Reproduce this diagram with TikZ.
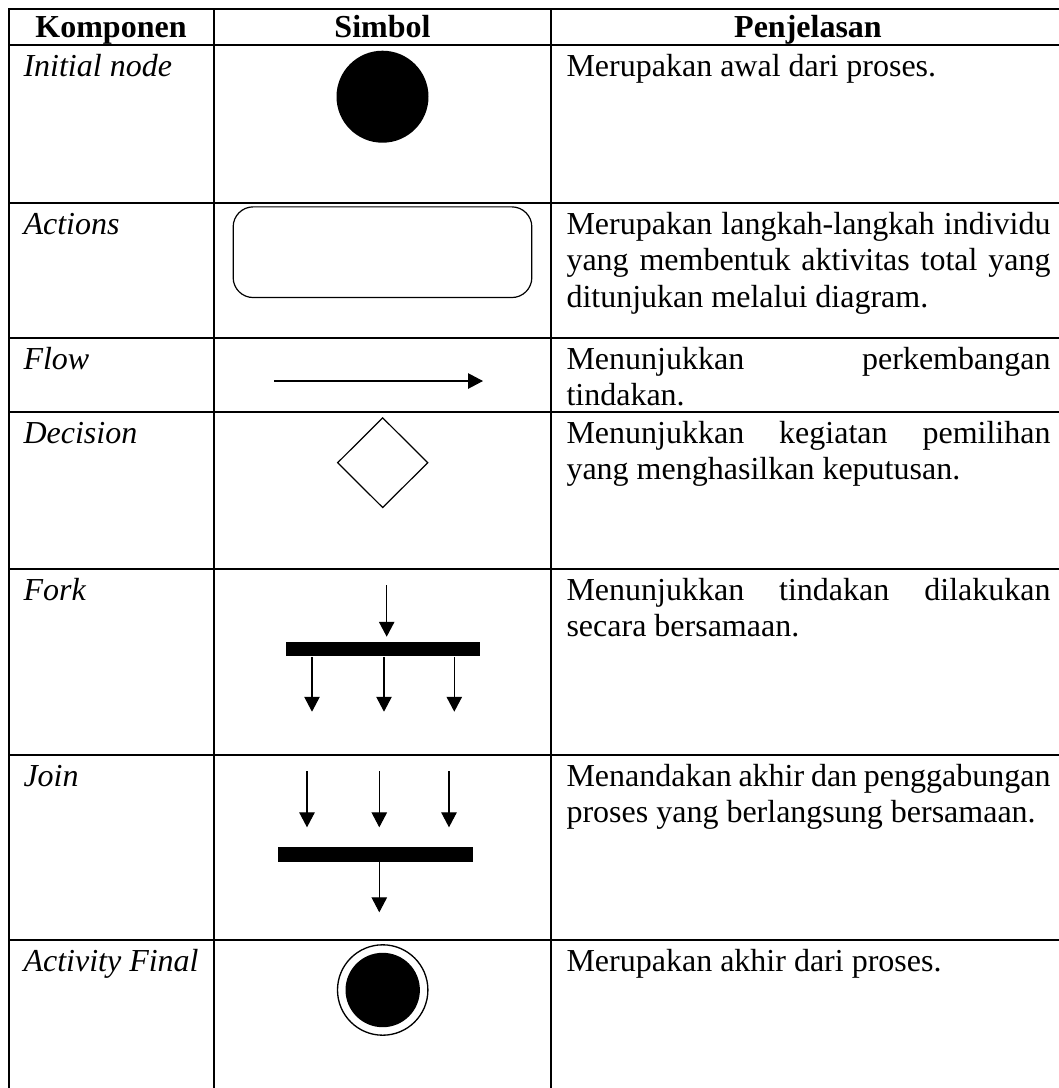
\documentclass[tikz,border=0pt]{standalone}
\usepackage{fontspec}
\setmainfont{Liberation Serif}
\usetikzlibrary{arrows.meta,shapes.geometric}
\newcommand\cellfont{\fontsize{12pt}{13.76pt}\selectfont}
\tolerance=10000
\hyphenpenalty=10000
\exhyphenpenalty=10000
\begin{document}
\begin{tikzpicture}[x=0.375pt,y=-0.375pt,
  rule/.style={line width=0.75pt},
  head/.style={font=\cellfont\bfseries, inner sep=0pt, anchor=base},
  comp/.style={font=\cellfont\itshape, inner sep=0pt, anchor=north west},
  desc/.style={font=\cellfont, inner sep=0pt, anchor=north west, text width=181.5pt, align=justify},
  flowline/.style={line width=0.4pt, -{Triangle[length=5.6pt,width=5.8pt]}},
  shapeline/.style={line width=0.45pt},
  barbox/.style={fill=black, inner sep=0pt, minimum width=73pt, minimum height=5.5pt},
]
\useasboundingbox (0,0) rectangle (1059,1088);
\clip (0,0) rectangle (1059,1088);

% ---- table rules ----
\draw[rule] (8.5,1100) -- (8.5,8.5) -- (1070,8.5);
\foreach \yy in {45,203,338,412,569,755,940}
  \draw[rule] (8.5,\yy) -- (1070,\yy);
\foreach \xx in {214,551}
  \draw[rule] (\xx,8.5) -- (\xx,1100);

% ---- header ----
\node[head] (hkomp) at (111,37.5) {Komponen};
\node[head] (hsimb) at (382.5,37.5) {Simbol};
\node[head] (hpenj) at (808,37.5) {Penjelasan};

% ---- component names ----
\node[comp] (kinit) at (23,50)  {\strut Initial node};
\node[comp] (kact)  at (23,208) {\strut Actions};
\node[comp] (kflow) at (23,343) {\strut Flow};
\node[comp] (kdec)  at (23,417) {\strut Decision};
\node[comp] (kfork) at (23,574) {\strut Fork};
\node[comp] (kjoin) at (23,760) {\strut Join};
\node[comp] (kfin)  at (23,945) {\strut Activity Final};

% ---- descriptions ----
\node[desc] (dinit) at (566,50)  {\strut Merupakan awal dari proses.};
\node[desc] (dact)  at (566,208) {\strut Merupakan langkah-langkah individu\linebreak yang membentuk aktivitas total yang\linebreak ditunjukan melalui diagram.};
\node[desc] (dflow) at (566,343) {\strut Menunjukkan perkembangan\linebreak tindakan.};
\node[desc] (ddec)  at (566,417) {\strut Menunjukkan kegiatan pemilihan\linebreak yang menghasilkan keputusan.};
\node[desc] (dfork) at (566,574) {\strut Menunjukkan tindakan dilakukan\linebreak secara bersamaan.};
\node[desc] (djoin) at (566,760) {\strut Menandakan akhir dan penggabungan\linebreak proses yang berlangsung bersamaan.};
\node[desc] (dfin)  at (566,945) {\strut Merupakan akhir dari proses.};

% ---- initial node ----
\node[circle, fill=black, inner sep=0pt, minimum size=34.5pt] (initdot) at (382.5,96.7) {};

% ---- action ----
\node[draw, shapeline, rectangle, rounded corners=7.5pt, inner sep=0pt,
      minimum width=112pt, minimum height=34pt] (actbox) at (382.5,252.2) {};

% ---- flow ----
\coordinate (flowstart) at (274,381);
\coordinate (flowend) at (483,381);
\draw[flowline] (flowstart) -- (flowend);

% ---- decision ----
\node[draw, shapeline, diamond, aspect=1, inner sep=0pt,
      minimum width=34pt, minimum height=33.8pt] (decbox) at (382.7,462.7) {};

% ---- fork ----
\node[barbox] (forkbar) at (383,649) {};
\coordinate (forkin) at (386.7,585.3);
\coordinate (forkintip) at (386.7,636.7);
\draw[flowline] (forkin) -- (forkintip);
\coordinate (forkout1) at (312,711.7);
\coordinate (forkout2) at (384,711.7);
\coordinate (forkout3) at (454.3,711.7);
\foreach \k in {1,2,3}
  \draw[flowline] (forkbar.south -| forkout\k) -- (forkout\k);

% ---- join ----
\node[barbox, minimum height=5.7pt] (joinbar) at (375.5,854.3) {};
\coordinate (joinin1) at (307,771);
\coordinate (joinin2) at (379.3,771);
\coordinate (joinin3) at (449,771);
\coordinate (jointip1) at (307,827.3);
\coordinate (jointip2) at (379.3,827.3);
\coordinate (jointip3) at (449,827.3);
\foreach \k in {1,2,3}
  \draw[flowline] (joinin\k) -- (jointip\k);
\coordinate (joinout) at (379.3,912.3);
\draw[flowline] (joinbar.south -| joinout) -- (joinout);

% ---- activity final ----
\node[circle, draw, line width=0.5pt, inner sep=0pt, minimum size=33.9pt] (finring) at (382.7,990) {};
\node[circle, fill=black, inner sep=0pt, minimum size=27.9pt] (findot) at (finring.center) {};

\end{tikzpicture}
\end{document}
